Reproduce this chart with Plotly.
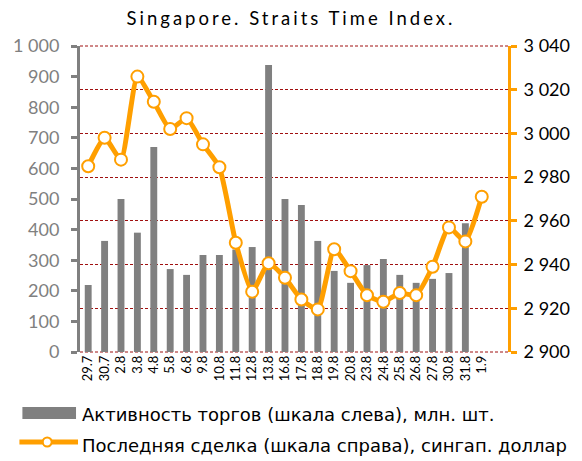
import plotly.graph_objects as go

dates = ["29.7", "30.7", "2.8", "3.8", "4.8", "5.8", "6.8", "9.8", "10.8", "11.8",
         "12.8", "13.8", "16.8", "17.8", "18.8", "19.8", "20.8", "23.8", "24.8",
         "25.8", "26.8", "27.8", "30.8", "31.8", "1.9"]
volume = [219, 363, 500, 390, 670, 271, 252, 317, 317, 335,
          343, 938, 500, 480, 363, 265, 226, 284, 304,
          252, 226, 239, 258, 421, None]
last_price = [2985, 2998, 2988, 3026, 3014.5, 3002, 3007, 2995, 2984.5, 2950,
              2927.6, 2940.6, 2934, 2924, 2919.5, 2947, 2937, 2926, 2923,
              2927, 2926, 2939, 2957, 2950.6, 2971]

bar_name = "Активность торгов (шкала слева), млн. шт."
line_name = "Последняя сделка (шкала справа), сингап. доллар"

FONT = "Lato"
WIDE = "DejaVu Sans"
ORANGE = "#FF9F00"
GRAY = "#808080"
GRID = "#A01010"

fig = go.Figure()
fig.add_trace(go.Bar(x=dates, y=volume, name=bar_name, marker_color=GRAY,
                     marker_line_width=0, width=0.42, yaxis="y", showlegend=False))
fig.add_trace(go.Scatter(x=dates, y=last_price, name=line_name, yaxis="y2",
                         mode="lines+markers",
                         line=dict(color=ORANGE, width=5, shape="spline", smoothing=0.5),
                         marker=dict(symbol="circle", size=12, color="white",
                                     line=dict(color=ORANGE, width=2)),
                         showlegend=False))

fig.update_layout(
    width=582, height=461,
    margin=dict(l=80, r=71, t=46, b=109),
    paper_bgcolor="white", plot_bgcolor="white",
    separators=", ",
    font=dict(family=FONT, color="black"),
    title=dict(text="Singapore. Straits Time Index.", x=0.5, xanchor="center",
               y=1 - 19 / 461, yanchor="middle",
               font=dict(family=FONT, size=18.5, color="black")),
    xaxis=dict(type="category", range=[-0.5, 25.6], showline=False, showgrid=False,
               ticks="", tickangle=-90, tickfont=dict(size=13, color="black"),
               zeroline=False),
    yaxis=dict(range=[0, 1000], dtick=100, tickformat=",d", showgrid=False,
               showline=True, linecolor=GRAY, linewidth=3,
               ticks="outside", ticklen=6, tickwidth=3, tickcolor=GRAY,
               ticklabelstandoff=8,
               tickfont=dict(size=18, color=GRAY), zeroline=False),
    yaxis2=dict(range=[2900, 3040], dtick=20, tickformat=",d", overlaying="y",
                side="right", showgrid=True, gridcolor=GRID, griddash="3px,2px",
                gridwidth=1, showline=True, linecolor=ORANGE, linewidth=3,
                ticks="outside", ticklen=6, tickwidth=3, tickcolor=ORANGE,
                ticklabelstandoff=3,
                tickfont=dict(size=18, color="black"), zeroline=False),
    bargap=0.5,
)

# top and bottom gridlines (edge lines not drawn by plotly)
for yv in (0, 1):
    fig.add_shape(type="line", xref="paper", yref="paper", x0=0, x1=1, y0=yv, y1=yv,
                  line=dict(color=GRID, width=1, dash="3px,2px"), layer="below")


def px(x):
    return (x - 80) / 431


def py(y):
    return (352 - y) / 306


# custom legend
fig.add_shape(type="rect", xref="paper", yref="paper",
              x0=px(22), x1=px(76), y0=py(407), y1=py(419),
              fillcolor=GRAY, line_width=0)
fig.add_shape(type="line", xref="paper", yref="paper",
              x0=px(19), x1=px(78), y0=py(442), y1=py(442),
              line=dict(color=ORANGE, width=5))
fig.add_shape(type="circle", xref="paper", yref="paper",
              x0=px(42.5), x1=px(51.5), y0=py(437.5), y1=py(446.5),
              fillcolor="white", line=dict(color=ORANGE, width=2))
fig.add_annotation(text=bar_name, xref="paper", yref="paper",
                   x=px(80), y=py(414), xanchor="left",
                   yanchor="middle", showarrow=False,
                   font=dict(family=WIDE, size=18, color="black"))
fig.add_annotation(text=line_name, xref="paper", yref="paper",
                   x=px(80), y=py(445), xanchor="left",
                   yanchor="middle", showarrow=False,
                   font=dict(family=WIDE, size=18, color="black"))

fig.write_html("out.html", config={"displayModeBar": False})
with open("out.html", encoding="utf-8") as f:
    html = f.read()
html = html.replace("<body>", '<body style="margin:0;padding:0;overflow:hidden">'
                    '<style>.gtitle{letter-spacing:3px;}</style>', 1)
with open("out.html", "w", encoding="utf-8") as f:
    f.write(html)
